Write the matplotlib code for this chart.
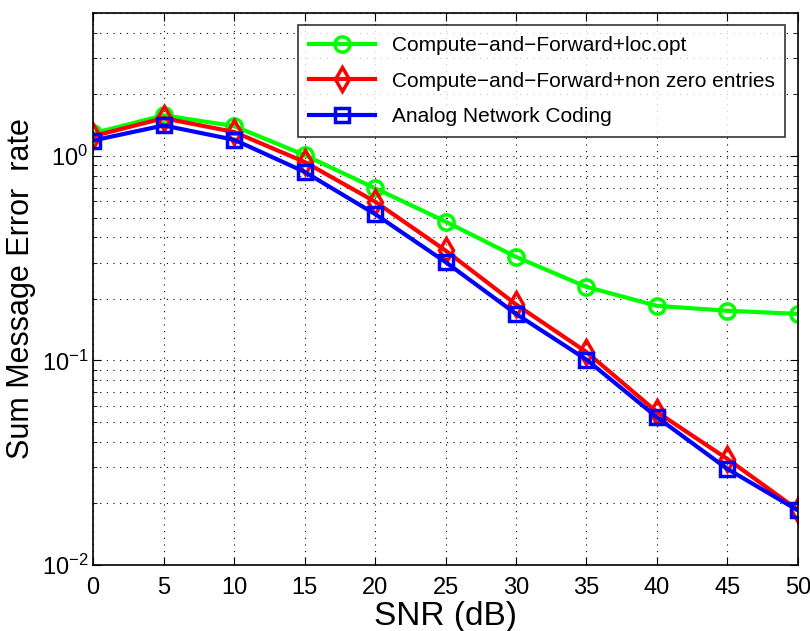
import matplotlib
matplotlib.use("Agg")
import matplotlib.pyplot as plt
from matplotlib.ticker import LogLocator, NullFormatter

snr = [0, 5, 10, 15, 20, 25, 30, 35, 40, 45, 50]
cf_loc_opt = [1.29, 1.58, 1.40, 1.01, 0.695, 0.478, 0.321, 0.229, 0.185, 0.175, 0.169]
cf_nonzero = [1.25, 1.53, 1.31, 0.935, 0.598, 0.345, 0.188, 0.110, 0.056, 0.033, 0.0186]
anc = [1.19, 1.41, 1.20, 0.836, 0.52, 0.303, 0.169, 0.101, 0.0528, 0.0295, 0.0185]
labels = ["Compute\u2212and\u2212Forward+loc.opt",
          "Compute\u2212and\u2212Forward+non zero entries",
          "Analog Network Coding"]

fam = "Liberation Sans"
plt.rcParams['font.family'] = [fam, 'DejaVu Sans']
plt.rcParams['mathtext.fontset'] = 'custom'
plt.rcParams['mathtext.rm'] = fam

fig = plt.figure(figsize=(8.1, 6.31), dpi=100)
ax = fig.add_axes([0.115, 0.1046, 0.870, 0.8748])

ax.plot(snr, cf_loc_opt, color='#00ff00', lw=3, marker='o', ms=11, mfc='none', mew=2.5, label=labels[0])
ax.plot(snr, cf_nonzero, color='#ff0000', lw=3, marker='d', ms=12, mfc='none', mew=2.5, label=labels[1])
ax.plot(snr, anc, color='#0000ff', lw=3, marker='s', ms=10, mfc='none', mew=2.5, label=labels[2])

ax.set_yscale('log')
ax.set_xlim(0, 50)
ax.set_ylim(1e-2, 5)
ax.set_xticks(snr)
ax.yaxis.set_major_locator(LogLocator(base=10, numticks=10))
ax.yaxis.set_minor_locator(LogLocator(base=10, subs=range(2, 10), numticks=20))
ax.yaxis.set_minor_formatter(NullFormatter())
ax.grid(True, which='both', color='black', linestyle=(0, (1, 5)), lw=0.8)
ax.tick_params(which='both', direction='in', top=True, right=True, labelsize=17)
ax.tick_params(axis='x', which='major', pad=9)
ax.tick_params(which='major', length=6)
ax.tick_params(which='minor', length=3)
for s in ax.spines.values():
    s.set_linewidth(1.2)

ax.set_xlabel("SNR (dB)", fontsize=24, labelpad=1)
ax.set_ylabel("Sum Message Error  rate", fontsize=22, labelpad=4)

leg = ax.legend(loc='upper right', fontsize=15, frameon=True, fancybox=False,
                edgecolor='black', handlelength=3.2, borderaxespad=0.6,
                labelspacing=0.8, borderpad=0.5)
leg.get_frame().set_linewidth(1.2)

fig.savefig("out.png", dpi=100)
